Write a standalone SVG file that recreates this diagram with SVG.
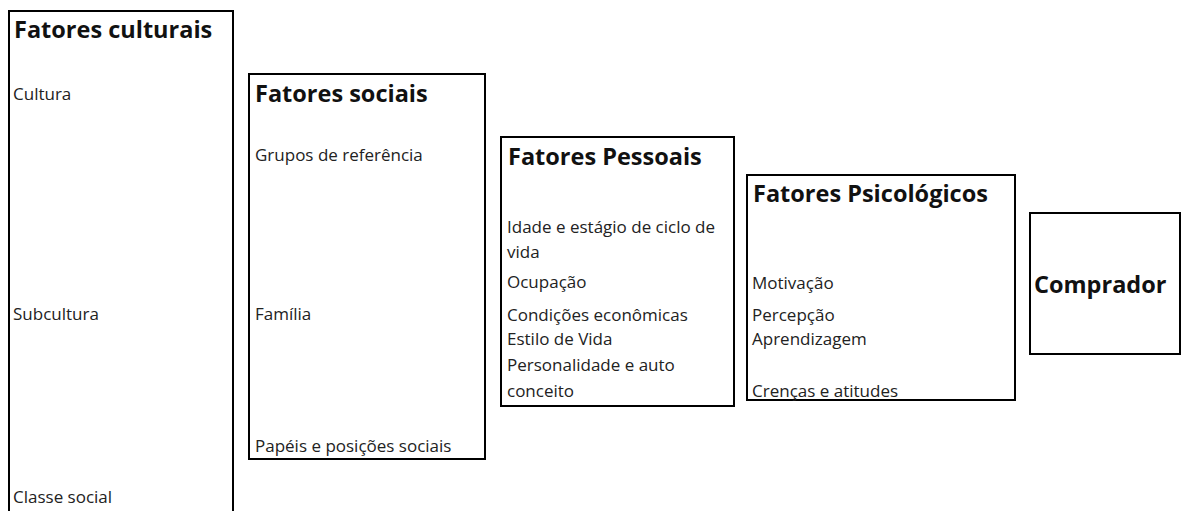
<svg xmlns="http://www.w3.org/2000/svg" width="1181" height="511" viewBox="0 0 1181 511">
<style>
.box{fill:#fff;stroke:#000;stroke-width:2}
.h{font-family:"Open Sans","Liberation Sans",sans-serif;font-weight:bold;font-size:23.5px;fill:#111}
.t{font-family:"Open Sans","Liberation Sans",sans-serif;font-size:17px;fill:#222}
</style>
<rect width="1181" height="511" fill="#fff"/>
<g id="fatores-culturais">
<rect class="box" x="9" y="11" width="224" height="510"/>
<text class="h" x="14" y="38">Fatores culturais</text>
<text class="t" x="13" y="100">Cultura</text>
<text class="t" x="13" y="320">Subcultura</text>
<text class="t" x="13" y="503">Classe social</text>
</g>
<g id="fatores-sociais">
<rect class="box" x="249" y="74" width="236" height="385"/>
<text class="h" x="255" y="102">Fatores sociais</text>
<text class="t" x="255" y="161">Grupos de referência</text>
<text class="t" x="255" y="320">Família</text>
<text class="t" x="255" y="452">Papéis e posições sociais</text>
</g>
<g id="fatores-pessoais">
<rect class="box" x="501" y="137" width="233" height="269"/>
<text class="h" x="508" y="165">Fatores Pessoais</text>
<text class="t" x="507" y="233">Idade e estágio de ciclo de</text>
<text class="t" x="507" y="258">vida</text>
<text class="t" x="507" y="288">Ocupação</text>
<text class="t" x="507" y="321">Condições econômicas</text>
<text class="t" x="507" y="345">Estilo de Vida</text>
<text class="t" x="507" y="371">Personalidade e auto</text>
<text class="t" x="507" y="397">conceito</text>
</g>
<g id="fatores-psicologicos">
<rect class="box" x="747" y="175" width="268" height="225"/>
<text class="h" x="753" y="202">Fatores Psicológicos</text>
<text class="t" x="752" y="289">Motivação</text>
<text class="t" x="752" y="321">Percepção</text>
<text class="t" x="752" y="345">Aprendizagem</text>
<text class="t" x="752" y="397">Crenças e atitudes</text>
</g>
<g id="comprador">
<rect class="box" x="1030" y="213" width="150" height="141"/>
<text class="h" x="1034" y="293">Comprador</text>
</g>
<g id="connectors"></g>
</svg>
